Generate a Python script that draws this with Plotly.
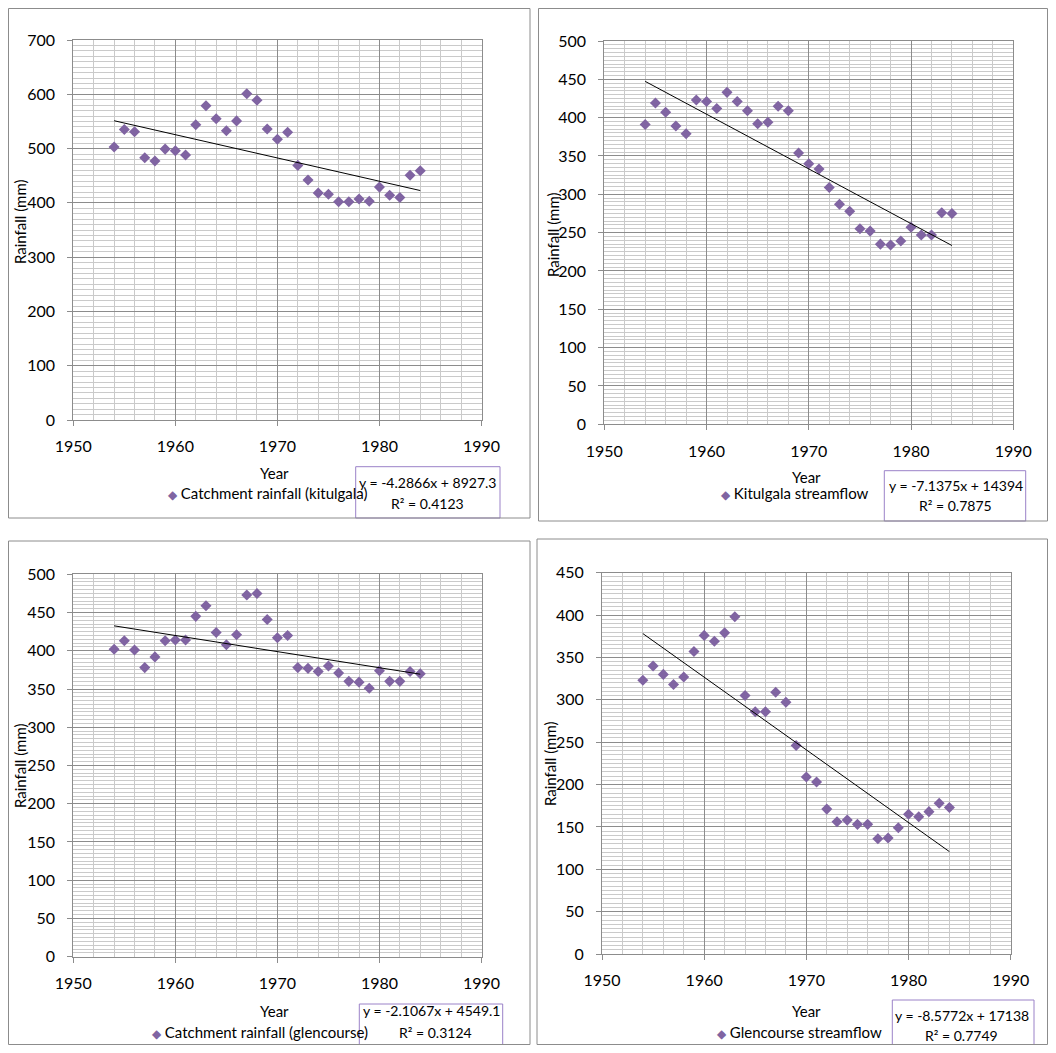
import plotly.graph_objects as go

# The page body adds an 8px margin, so the figure is drawn 16px smaller and
# every reference pixel position is shifted by that margin.
PAGE_W, PAGE_H = 1056, 1053
OFF = 8
W, H = PAGE_W - 2 * OFF, PAGE_H - 2 * OFF

years = list(range(1954, 1985))

kitulgala_rain = [503, 535, 531, 483, 477, 499, 496, 488, 544, 579, 555, 533, 551, 601, 589, 536,
                  517, 530, 469, 442, 418, 416, 402, 402, 407, 403, 429, 414, 410, 451, 459]
kitulgala_flow = [391, 419, 407, 389, 379, 423, 421, 412, 433, 421, 409, 392, 394, 415, 409, 354,
                  340, 333, 309, 287, 278, 255, 252, 235, 234, 239, 257, 247, 247, 276, 275]
glencourse_rain = [402, 413, 401, 378, 392, 413, 414, 414, 445, 459, 424, 408, 421, 473, 475, 441,
                   417, 420, 378, 377, 373, 380, 371, 360, 359, 351, 374, 360, 360, 373, 370]
glencourse_flow = [323, 340, 330, 318, 327, 357, 376, 369, 379, 398, 305, 286, 286, 309, 297, 246,
                   209, 203, 171, 156, 158, 153, 153, 136, 137, 149, 165, 162, 168, 178, 173]

series_names = ["Catchment rainfall (kitulgala)", "Kitulgala streamflow",
                "Catchment rainfall (glencourse)", "Glencourse streamflow"]
slopes = [-4.2866, -7.1375, -2.1067, -8.5772]
intercepts = [8927.3, 14394, 4549.1, 17138]
intercept_labels = ["8927.3", "14394", "4549.1", "17138"]
r2_values = ["0.4123", "0.7875", "0.3124", "0.7749"]
y_max = [700, 500, 500, 450]
y_major = [100, 50, 50, 50]
y_minor = [10, 5, 5, 5]
x_ticks = [1950, 1960, 1970, 1980, 1990]

data = [kitulgala_rain, kitulgala_flow, glencourse_rain, glencourse_flow]

PURPLE = "#8064A2"
BOX = "#9B82C8"
MAJOR = "#8c8c8c"
MINOR = "#cacaca"
FONT = "Lato"

def px(p):
    return (p - OFF) / W

def py(p):
    return 1 - (p - OFF) / H

# plot area pixel boxes (page pixels): left, top, right, bottom
plot_px = [(73.3, 40, 481.5, 420), (604.3, 41, 1013.3, 424.3),
           (73.3, 574.3, 481.5, 956.7), (602, 572.7, 1010.7, 954)]
frames = [(8.5, 8.5, 530, 518), (538.5, 8.5, 1047.5, 521),
          (8.5, 541, 530, 1044.5), (537, 539, 1047.5, 1044.5)]
ytitle_pos = [(20, 222), (553, 235), (20, 766), (550, 764)]
xtitle_pos = [(274, 473.3), (806.7, 476.7), (274, 1010.7), (806.7, 1010.7)]
legend_pos = [(268, 493.3), (795, 493.3), (260, 1032.3), (799, 1031.7)]
eq_pos = [(427, 482.7, 427.5, 503.3), (955.5, 485.7, 955.5, 505.7),
          (431.7, 1010.7, 435.7, 1032.3), (961.7, 1015, 961.7, 1035.7)]
boxes = [(355.7, 466.7, 500, 518), (884.3, 470.7, 1025.7, 521),
         (359.3, 1004, 502.7, 1044.5), (892.3, 1000, 1034, 1044.5)]

fig = go.Figure()
shapes = []
annotations = []

for i in range(4):
    n = "" if i == 0 else str(i + 1)
    xa, ya = "x" + n, "y" + n
    fig.add_trace(go.Scatter(
        x=years, y=data[i], mode="markers", xaxis=xa, yaxis=ya,
        marker=dict(symbol="diamond", size=8.5, color=PURPLE),
        name=series_names[i], showlegend=False))
    tx = [years[0], years[-1]]
    ty = [slopes[i] * t + intercepts[i] for t in tx]
    fig.add_trace(go.Scatter(
        x=tx, y=ty, mode="lines", xaxis=xa, yaxis=ya,
        line=dict(color="black", width=1), showlegend=False))

    l, t, r, b = plot_px[i]
    axis_common = dict(
        showgrid=True, gridcolor=MAJOR, gridwidth=1,
        showline=True, linecolor=MAJOR, linewidth=1, mirror=True,
        ticks="outside", ticklen=5, tickcolor=MAJOR,
        tickfont=dict(family=FONT, size=16, color="black"),
        zeroline=False, fixedrange=True,
        automargin=False,
    )
    fig.update_layout(**{
        ("xaxis" + n): dict(axis_common, domain=[px(l), px(r)], range=[1950, 1990],
                            tickvals=x_ticks, anchor=ya, ticklabelstandoff=7,
                            minor=dict(dtick=2, showgrid=True, gridcolor=MINOR, ticks="")),
        ("yaxis" + n): dict(axis_common, domain=[py(b), py(t)], range=[0, y_max[i]],
                            dtick=y_major[i], anchor=xa, ticklabelstandoff=9,
                            minor=dict(dtick=y_minor[i], showgrid=True, gridcolor=MINOR, ticks="")),
    })

    # equation box and chart frame
    bl, bt, br, bb = boxes[i]
    shapes.append(dict(type="rect", xref="paper", yref="paper",
                       x0=px(bl), x1=px(br), y0=py(bb), y1=py(bt),
                       line=dict(color=BOX, width=1), fillcolor="rgba(0,0,0,0)"))
    fl, ft, fr, fb = frames[i]
    shapes.append(dict(type="rect", xref="paper", yref="paper",
                       x0=px(fl), x1=px(fr), y0=py(fb), y1=py(ft),
                       line=dict(color=MAJOR, width=1), fillcolor="rgba(0,0,0,0)"))

    txt = dict(family=FONT, size=14, color="black")
    big = dict(family=FONT, size=15, color="black")
    yx, yy = ytitle_pos[i]
    annotations.append(dict(text="Rainfall (mm)", x=px(yx), y=py(yy), xref="paper", yref="paper",
                            showarrow=False, textangle=-90, font=big,
                            xanchor="center", yanchor="middle"))
    xx, xy = xtitle_pos[i]
    annotations.append(dict(text="Year", x=px(xx), y=py(xy), xref="paper", yref="paper",
                            showarrow=False, font=big, xanchor="center", yanchor="middle"))
    lx, ly = legend_pos[i]
    annotations.append(dict(text="<span style='color:%s;font-size:12px'>◆</span> %s" % (PURPLE, series_names[i]),
                            x=px(lx), y=py(ly), xref="paper", yref="paper",
                            showarrow=False, font=big, xanchor="center", yanchor="middle"))
    e1x, e1y, e2x, e2y = eq_pos[i]
    annotations.append(dict(text="y = %sx + %s" % (slopes[i], intercept_labels[i]),
                            x=px(e1x), y=py(e1y), xref="paper", yref="paper",
                            showarrow=False, font=txt, xanchor="center", yanchor="middle"))
    annotations.append(dict(text="R² = %s" % r2_values[i],
                            x=px(e2x), y=py(e2y), xref="paper", yref="paper",
                            showarrow=False, font=txt, xanchor="center", yanchor="middle"))

fig.update_layout(
    width=W, height=H, margin=dict(l=0, r=0, t=0, b=0, autoexpand=False),
    paper_bgcolor="white", plot_bgcolor="white",
    showlegend=False, shapes=shapes, annotations=annotations,
    font=dict(family=FONT, size=14, color="black"),
)

fig.write_html("out.html")
